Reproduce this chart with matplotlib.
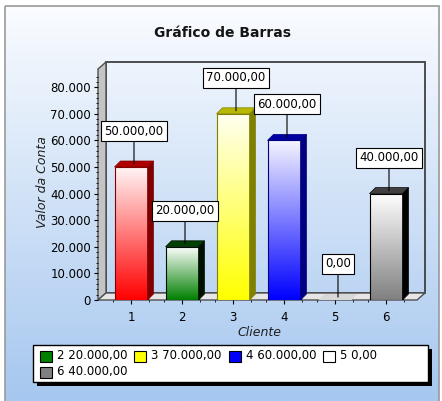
import numpy as np
import matplotlib
matplotlib.use("Agg")
import matplotlib.pyplot as plt
from matplotlib.patches import Rectangle, Polygon

# data
clientes = [1, 2, 3, 4, 5, 6]
valores = [50000, 20000, 70000, 60000, 0, 40000]
cores = ['#ff0000', '#008000', '#ffff00', '#0000ff', '#ffffff', '#808080']
cores_topo = ['#b00000', '#004000', '#b8b800', '#0000a0', '#d8d8d8', '#404040']
cores_lado = ['#800000', '#001000', '#808000', '#000080', '#c0c0c0', '#000000']
cores_claras = ['#fff4f4', '#ffffff', '#fffff0', '#f4f4ff', '#ffffff', '#ffffff']
legenda_ids = [2, 3, 4, 5, 6]
yticks = [0, 10000, 20000, 30000, 40000, 50000, 60000, 70000, 80000]


def br(v, dec=2):
    s = f"{v:,.{dec}f}"
    return s.replace(',', 'X').replace('.', ',').replace('X', '.')


def hex2rgb(h):
    h = h.lstrip('#')
    return np.array([int(h[i:i + 2], 16) for i in (0, 2, 4)]) / 255.0


W, H = 442, 401
fig = plt.figure(figsize=(W / 100, H / 100), dpi=100)
fig.patch.set_facecolor('white')

# background axes in pixel coordinates
bg = fig.add_axes([0, 0, 1, 1], zorder=0)
bg.set_xlim(0, W)
bg.set_ylim(H, 0)
bg.axis('off')

top_c = np.array([250, 252, 255]) / 255.0
bot_c = np.array([166, 199, 239]) / 255.0
t = np.linspace(0, 1, 256)[:, None, None]
grad = top_c * (1 - t) + bot_c * t
bg.imshow(grad, extent=[5, 439, H, 6], aspect='auto', origin='upper', zorder=0)
bg.add_patch(Rectangle((5, 6), 434, 400, fill=False, ec='#9a9a9a', lw=1.2, zorder=1))
bg.set_xlim(0, W)
bg.set_ylim(H, 0)

# 3D frame geometry (pixels)
X0, Y0, X1, YT = 98, 300, 417, 69
DX, DY = 8, 7

# back wall
bg.add_patch(Rectangle((X0 + DX, YT - DY), X1 - X0, Y0 - YT, fill=False,
                       ec='#404040', lw=1.3, zorder=2))
# side wall
bg.add_patch(Polygon([(X0, Y0), (X0, YT), (X0 + DX, YT - DY), (X0 + DX, Y0 - DY)],
                     closed=True, fc='#c4c4c4', ec='#505050', lw=1, zorder=3))
# floor
bg.add_patch(Polygon([(X0, Y0), (X0 + DX, Y0 - DY), (X1 + DX, Y0 - DY), (X1, Y0)],
                     closed=True, fc='#e6e6e6', ec='#505050', lw=1, zorder=3))

bg.text(222, 33, 'Gráfico de Barras', ha='center', va='center',
        fontsize=10, fontweight='bold', color='#151515')
bg.text(42, 182, 'Valor da Conta', ha='center', va='center', rotation=90,
        fontsize=9, style='italic', color='#202020')
bg.text(259, 332, 'Cliente', ha='center', va='center',
        fontsize=9, style='italic', color='#202020')

# legend
bg.add_patch(Rectangle((37, 349), 395, 37, fc='black', ec='none', zorder=4))
bg.add_patch(Rectangle((33, 345), 395, 37, fc='white', ec='black', lw=1, zorder=5))
leg_pos = [(40, 356), (134, 356), (229, 356), (323, 356), (40, 372)]
for (lx, ly), cid in zip(leg_pos, legenda_ids):
    i = clientes.index(cid)
    bg.add_patch(Rectangle((lx, ly - 5.5), 12, 11, fc=cores[i], ec='black', lw=0.8, zorder=6))
    bg.text(lx + 17, ly, f"{cid} {br(valores[i])}", ha='left', va='center',
            fontsize=8.5, color='black', zorder=6)

# main axes
ax = fig.add_axes([X0 / W, (H - Y0) / H, (X1 - X0) / W, (Y0 - YT) / H], zorder=2)
ax.patch.set_alpha(0)
xmin, xmax = 1 - (131 - X0) / 51.0, 6 + (X1 - 386) / 51.0
ymax = (Y0 - YT) / 26.6 * 10000
ax.set_xlim(xmin, xmax)
ax.set_ylim(0, ymax)
for s in ax.spines.values():
    s.set_visible(False)

ppx = (X1 - X0) / (xmax - xmin)
ppy = (Y0 - YT) / ymax
BD = 6
dxd, dyd = BD / ppx, BD / ppy
bw = 33 / 51.0

for i, (c, v) in enumerate(zip(clientes, valores)):
    l, r = c - bw / 2, c + bw / 2
    if v > 0:
        tt = np.linspace(0, 1, 128)[:, None, None]
        g = hex2rgb(cores_claras[i]) * (1 - tt) + hex2rgb(cores[i]) * tt
        ax.imshow(g, extent=[l, r, 0, v], aspect='auto', origin='upper', zorder=3)
        ax.add_patch(Rectangle((l, 0), bw, v, fill=False, ec=cores_lado[i], lw=0.8, zorder=4))
        ax.add_patch(Polygon([(r, 0), (r + dxd, dyd), (r + dxd, v + dyd), (r, v)],
                             closed=True, fc=cores_lado[i], ec=cores_lado[i], lw=0.5, zorder=3))
    ax.add_patch(Polygon([(l, v), (r, v), (r + dxd, v + dyd), (l + dxd, v + dyd)],
                         closed=True, fc=cores_topo[i], ec=cores_lado[i] if v > 0 else 'none',
                         lw=0.5, zorder=3))
    ax.annotate(br(v), xy=(c + dxd / 2, v + dyd / 2), xytext=(0, 33),
                textcoords='offset pixels', ha='center', va='center', fontsize=8.5,
                bbox=dict(boxstyle='square,pad=0.3', fc='white', ec='black', lw=0.8),
                arrowprops=dict(arrowstyle='-', color='black', lw=0.8, shrinkA=0, shrinkB=0),
                zorder=6)

ax.set_xlim(xmin, xmax)
ax.set_ylim(0, ymax)
ax.set_xticks(clientes)
ax.set_xticklabels([str(c) for c in clientes], fontsize=8.5)
ax.set_xticks([c + d for c in clientes for d in (-0.35, 0.35)], minor=True)
ax.set_yticks(yticks)
ax.set_yticklabels([br(y, 0) for y in yticks], fontsize=8.5)
ax.set_yticks(np.arange(0, 86000, 2000), minor=True)
ax.tick_params(axis='both', which='major', length=3, width=0.8, direction='out', pad=2)
ax.tick_params(axis='x', which='major', pad=5)
ax.tick_params(axis='both', which='minor', length=1.5, width=0.6)

fig.savefig('out.png', dpi=100)
